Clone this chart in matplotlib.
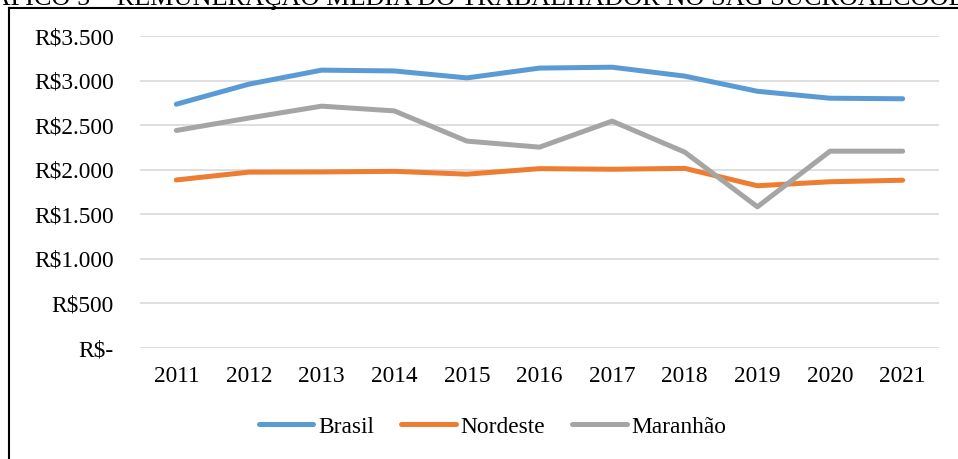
import matplotlib.pyplot as plt
from matplotlib.lines import Line2D

# Remuneração média do trabalhador (R$)
anos = [2011, 2012, 2013, 2014, 2015, 2016, 2017, 2018, 2019, 2020, 2021]
brasil = [2735, 2960, 3117, 3108, 3030, 3140, 3150, 3050, 2880, 2802, 2796]
nordeste = [1885, 1973, 1975, 1982, 1950, 2012, 2005, 2015, 1820, 1865, 1882]
maranhao = [2440, 2580, 2713, 2660, 2321, 2253, 2545, 2197, 1584, 2208, 2208]

y_ticks = [0, 500, 1000, 1500, 2000, 2500, 3000, 3500]
y_labels = ['R$-', 'R$500', 'R$1.000', 'R$1.500', 'R$2.000',
            'R$2.500', 'R$3.000', 'R$3.500']

plt.rcParams['font.family'] = ['Liberation Serif', 'DejaVu Serif']
fs = 16.8

fig = plt.figure(figsize=(9.58, 4.59), dpi=100)
ax = fig.add_axes([140 / 958, 1 - 348 / 459, 799 / 958, 312 / 459])

ax.plot(anos, brasil, color='#5B9BD5', lw=3.6, solid_capstyle='round', label='Brasil')
ax.plot(anos, nordeste, color='#ED7D31', lw=3.6, solid_capstyle='round', label='Nordeste')
ax.plot(anos, maranhao, color='#A5A5A5', lw=3.6, solid_capstyle='round', label='Maranhão')

ax.set_xlim(2010.5, 2021.5)
ax.set_ylim(0, 3500)
ax.set_xticks(anos)
ax.set_xticklabels([str(a) for a in anos], fontsize=fs)
ax.set_yticks(y_ticks)
ax.set_yticklabels(y_labels, fontsize=fs)
ax.tick_params(axis='y', length=0, pad=19)
ax.tick_params(axis='x', length=0, pad=13)
ax.grid(axis='y', color='#D9D9D9', lw=1.2)
ax.set_axisbelow(True)
for s in ax.spines.values():
    s.set_visible(False)

fig.legend(loc='center', bbox_to_anchor=(492.5 / 958, 1 - 427 / 459), ncol=3,
           frameon=False, fontsize=fs, handlelength=2.35, handletextpad=0.2,
           columnspacing=1.15)

# moldura e título cortado do recorte original
x0 = 9 / 958
y0 = 1 - 7.5 / 459
fig.add_artist(Line2D([x0, 1.05], [y0, y0], transform=fig.transFigure,
                      color='black', lw=1.5))
fig.add_artist(Line2D([x0, x0], [-0.05, y0], transform=fig.transFigure,
                      color='black', lw=1.5))
fig.text(-0.047, 1 - 4.5 / 459,
         'GRÁFICO 5 – REMUNERAÇÃO MÉDIA DO TRABALHADOR NO SAG SUCROALCOOLEIRO',
         ha='left', va='baseline', fontsize=18.9)

fig.savefig('out.png', dpi=100)
